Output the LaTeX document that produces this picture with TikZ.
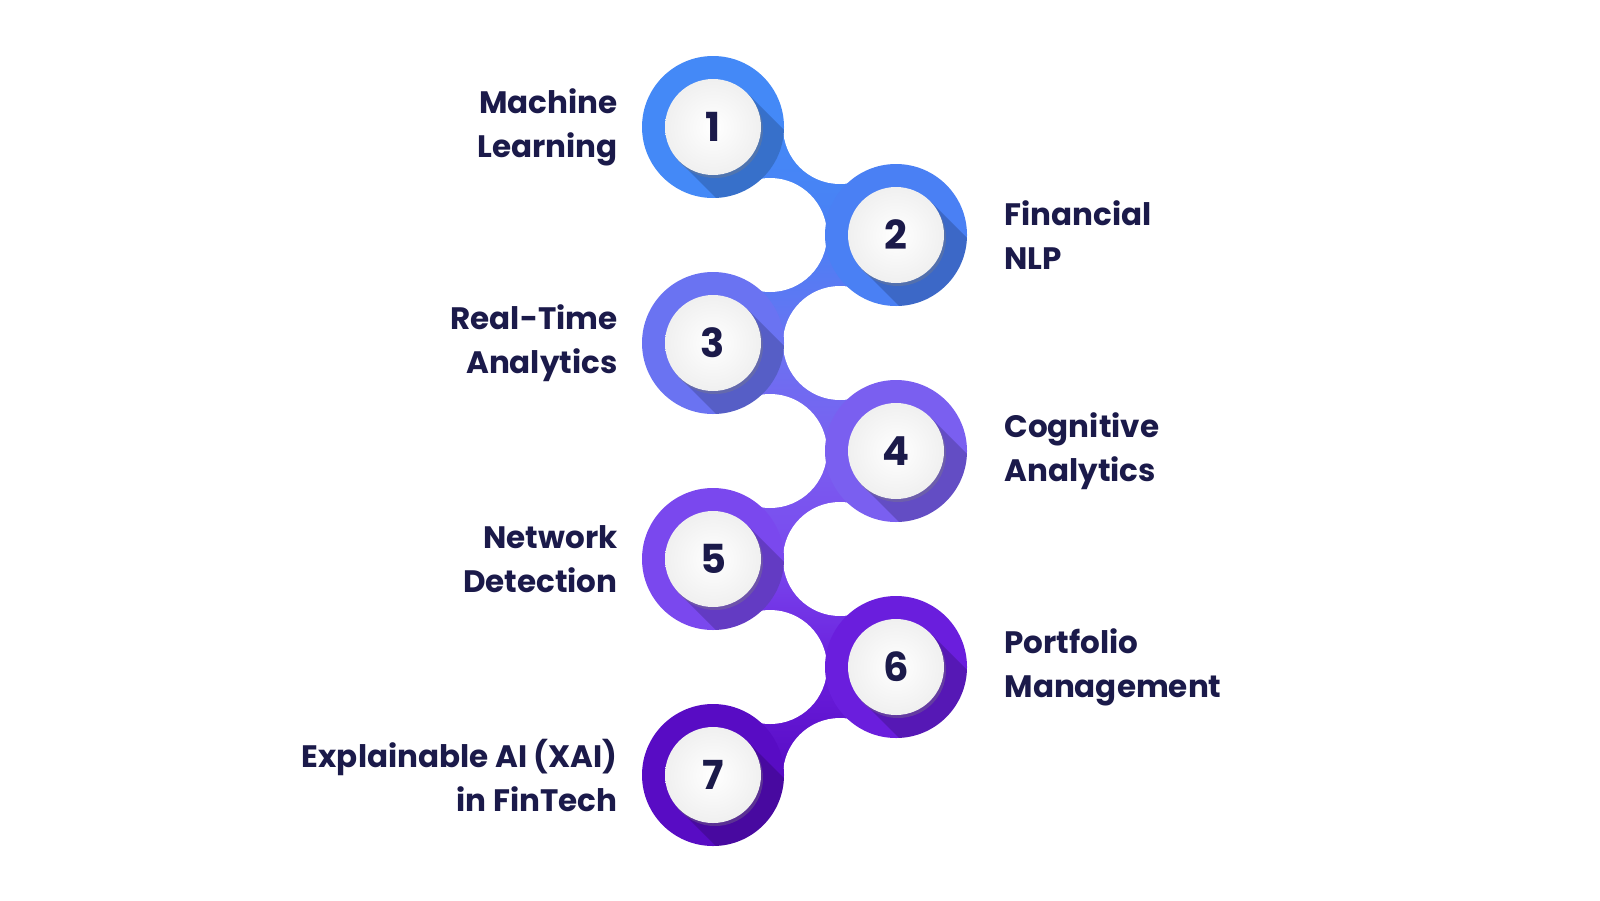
\documentclass[tikz,border=0pt]{standalone}
\usepackage{fontspec}
\setmainfont{Poppins}[BoldFont={* Bold}]
\usetikzlibrary{shadows,calc}
\definecolor{txt}{HTML}{1B1A4A}
\definecolor{ca}{HTML}{4489F7}
\definecolor{cb}{HTML}{4A80F4}
\definecolor{cc}{HTML}{6A73F2}
\definecolor{cd}{HTML}{7A5FF0}
\definecolor{ce}{HTML}{7A48EE}
\definecolor{cf}{HTML}{6A1EDD}
\definecolor{cg}{HTML}{580CC4}
\tikzset{
  lbl/.style={text=txt,font=\bfseries\fontsize{31}{44}\selectfont,align=#1},
  num/.style={circle,minimum size=96pt,inner sep=0pt,text=txt,font=\bfseries\fontsize{40}{40}\selectfont,
    shade,inner color=white,outer color=gray!12,drop shadow={shadow xshift=2pt,shadow yshift=-3pt,opacity=0.35}},
}
\begin{document}
\begin{tikzpicture}[x=1pt,y=-1pt]
\useasboundingbox (0,0) rectangle (1600,900);
\fill[white] (0,0) rectangle (1600,900);
\def\xl{713}\def\xr{896}
\foreach \i/\ya/\yb/\ca/\cb/\lx/\rx/\ly/\ry in {
 1/127/235/ca/cb/770/840/235/127,
 2/235/343/cb/cc/770/840/235/343,
 3/343/451/cc/cd/770/840/451/343,
 4/451/559/cd/ce/770/840/451/559,
 5/559/667/ce/cf/770/840/667/559,
 6/667/775/cf/cg/770/840/667/775}{
  \pgfmathtruncatemacro\odd{mod(\i,2)}
  \ifnum\odd=1
    \shade[top color=\ca,bottom color=\cb] (\xl,\ya) -- (\rx,\ry) -- (\xr,\yb) -- (\lx,\ly) -- cycle;
  \else
    \shade[top color=\ca,bottom color=\cb] (\xr,\ya) -- (\rx,\ry) -- (\xl,\yb) -- (\lx,\ly) -- cycle;
  \fi
}
\foreach \y in {235,451,667} \fill[white] (770,\y) circle (57);
\foreach \y in {127,343,559,775} \fill[white] (840,\y) circle (57);
\foreach \x/\y/\c/\n/\t/\side in {
 713/127/ca/1/{Machine\\Learning}/l,
 896/235/cb/2/{Financial\\NLP}/r,
 713/343/cc/3/{Real-Time\\Analytics}/l,
 896/451/cd/4/{Cognitive\\Analytics}/r,
 713/559/ce/5/{Network\\Detection}/l,
 896/667/cf/6/{Portfolio\\Management}/r,
 713/775/cg/7/{Explainable AI (XAI)\\in FinTech}/l}{
  \fill[\c] (\x,\y) circle (71);
  \begin{scope}
    \clip (\x,\y) circle (71);
    \fill[black,opacity=0.18] ($(\x,\y)+(34,-34)$) -- ++(120,120) -- ++(-68,68) -- ($(\x,\y)+(-34,34)$) -- cycle;
  \end{scope}
  \node[num] (n\n) at (\x,\y) {\n};
  \if l\side
    \node[lbl=right,anchor=east] (t\n) at (621,\y) {\t};
  \else
    \node[lbl=left,anchor=west] (t\n) at (1001,\y) {\t};
  \fi
}
\end{tikzpicture}
\end{document}
